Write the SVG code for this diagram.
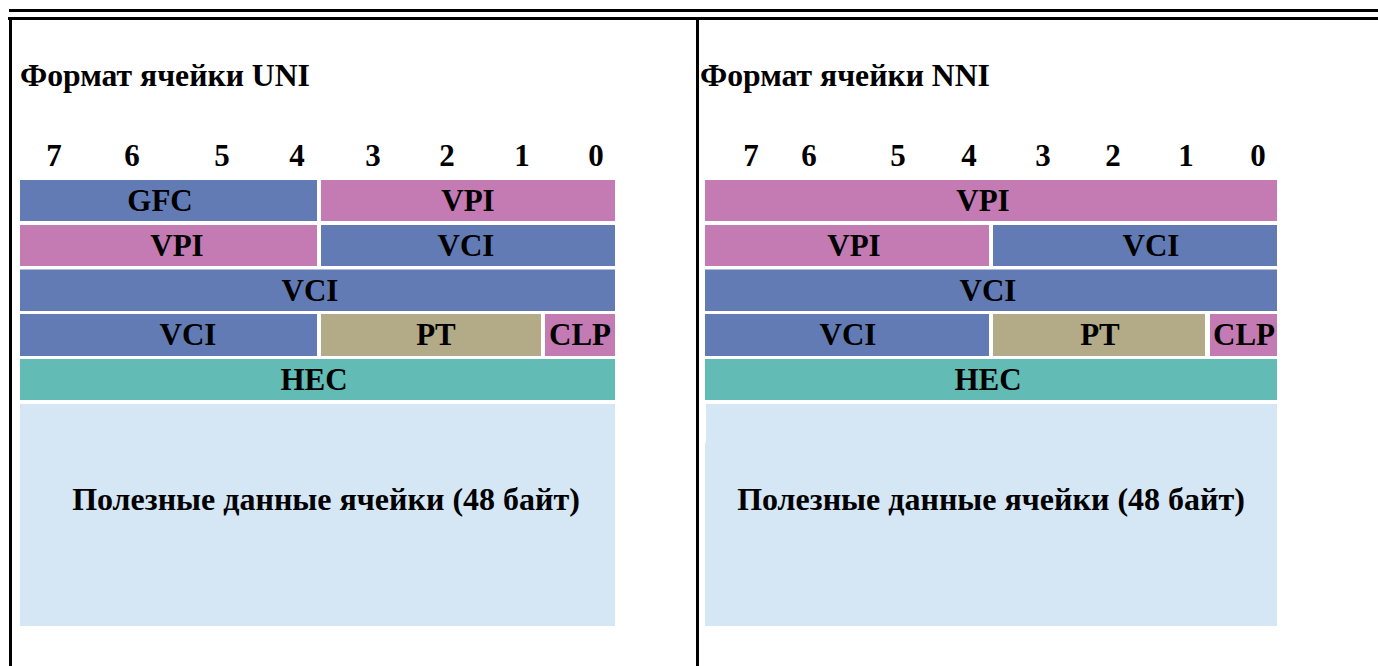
<svg xmlns="http://www.w3.org/2000/svg" width="1378" height="666" viewBox="0 0 1378 666">
  <style>
    text { font-family: "Liberation Serif", "Times New Roman", serif; font-weight: bold; fill: #000; }
    .title { font-size: 31.7px; }
    .bit { font-size: 31px; text-anchor: middle; }
    .lbl { font-size: 31px; text-anchor: middle; }
    .big { font-size: 32px; text-anchor: middle; }
    .blue { fill: #627BB4; }
    .pink { fill: #C47AB3; }
    .tan { fill: #B3AB87; }
    .teal { fill: #62BBB4; }
    .pay { fill: #D5E6F4; }
    .rule { fill: #000; }
  </style>

  <!-- frame rules -->
  <g id="frame">
    <rect class="rule" x="9" y="9" width="1369" height="3"/>
    <rect class="rule" x="8" y="17" width="1370" height="3"/>
    <rect class="rule" x="9" y="17" width="3" height="649"/>
    <rect class="rule" x="696" y="17" width="3" height="649"/>
  </g>

  <!-- connectors: none in this layout -->
  <g id="connectors"/>

  <!-- UNI cell format -->
  <g id="uni">
    <text class="title" x="20" y="86">Формат ячейки UNI</text>
    <g id="uni-bits">
      <text class="bit" x="54" y="166">7</text>
      <text class="bit" x="132" y="166">6</text>
      <text class="bit" x="222" y="166">5</text>
      <text class="bit" x="297" y="166">4</text>
      <text class="bit" x="373" y="166">3</text>
      <text class="bit" x="447" y="166">2</text>
      <text class="bit" x="522" y="166">1</text>
      <text class="bit" x="596" y="166">0</text>
    </g>
    <g id="uni-gfc"><rect class="blue" x="20" y="180" width="297" height="41"/><text class="lbl" x="160" y="211">GFC</text></g>
    <g id="uni-vpi1"><rect class="pink" x="321" y="180" width="294" height="41"/><text class="lbl" x="468" y="211">VPI</text></g>
    <g id="uni-vpi2"><rect class="pink" x="20" y="225" width="297" height="41"/><text class="lbl" x="177" y="256">VPI</text></g>
    <g id="uni-vci1"><rect class="blue" x="321" y="225" width="294" height="41"/><text class="lbl" x="466" y="256">VCI</text></g>
    <g id="uni-vci2"><rect class="blue" x="20" y="269.5" width="595" height="41.5"/><text class="lbl" x="310" y="300.5">VCI</text></g>
    <g id="uni-vci3"><rect class="blue" x="20" y="314" width="297" height="42"/><text class="lbl" x="188" y="345">VCI</text></g>
    <g id="uni-pt"><rect class="tan" x="321" y="314" width="220" height="42"/><text class="lbl" x="436" y="345">PT</text></g>
    <g id="uni-clp"><rect class="pink" x="545" y="314" width="70" height="42"/><text class="lbl" x="580" y="345">CLP</text></g>
    <g id="uni-hec"><rect class="teal" x="20" y="359" width="595" height="41"/><text class="lbl" x="314" y="390">HEC</text></g>
    <g id="uni-payload"><rect class="pay" x="20" y="404" width="595" height="222"/><text class="big" x="326" y="510">Полезные данные ячейки (48 байт)</text></g>
  </g>

  <!-- NNI cell format -->
  <g id="nni">
    <text class="title" x="700" y="86">Формат ячейки NNI</text>
    <g id="nni-bits">
      <text class="bit" x="751" y="166">7</text>
      <text class="bit" x="809" y="166">6</text>
      <text class="bit" x="898" y="166">5</text>
      <text class="bit" x="969" y="166">4</text>
      <text class="bit" x="1043" y="166">3</text>
      <text class="bit" x="1113" y="166">2</text>
      <text class="bit" x="1186" y="166">1</text>
      <text class="bit" x="1258" y="166">0</text>
    </g>
    <g id="nni-vpi1"><rect class="pink" x="705" y="180" width="572" height="41"/><text class="lbl" x="983" y="211">VPI</text></g>
    <g id="nni-vpi2"><rect class="pink" x="705" y="225" width="284" height="41"/><text class="lbl" x="854" y="256">VPI</text></g>
    <g id="nni-vci1"><rect class="blue" x="993" y="225" width="284" height="41"/><text class="lbl" x="1151" y="256">VCI</text></g>
    <g id="nni-vci2"><rect class="blue" x="705" y="269.5" width="572" height="41.5"/><text class="lbl" x="988" y="300.5">VCI</text></g>
    <g id="nni-vci3"><rect class="blue" x="705" y="314" width="284" height="42"/><text class="lbl" x="848" y="345">VCI</text></g>
    <g id="nni-pt"><rect class="tan" x="993" y="314" width="212" height="42"/><text class="lbl" x="1100" y="345">PT</text></g>
    <g id="nni-clp"><rect class="pink" x="1210" y="314" width="67" height="42"/><text class="lbl" x="1244" y="345">CLP</text></g>
    <g id="nni-hec"><rect class="teal" x="705" y="359" width="572" height="41"/><text class="lbl" x="988" y="390">HEC</text></g>
    <g id="nni-payload">
      <rect class="pay" x="706" y="404" width="571" height="39"/>
      <rect class="pay" x="705" y="442.5" width="572" height="183.5"/>
      <text class="big" x="991" y="510">Полезные данные ячейки (48 байт)</text>
    </g>
  </g>
</svg>
